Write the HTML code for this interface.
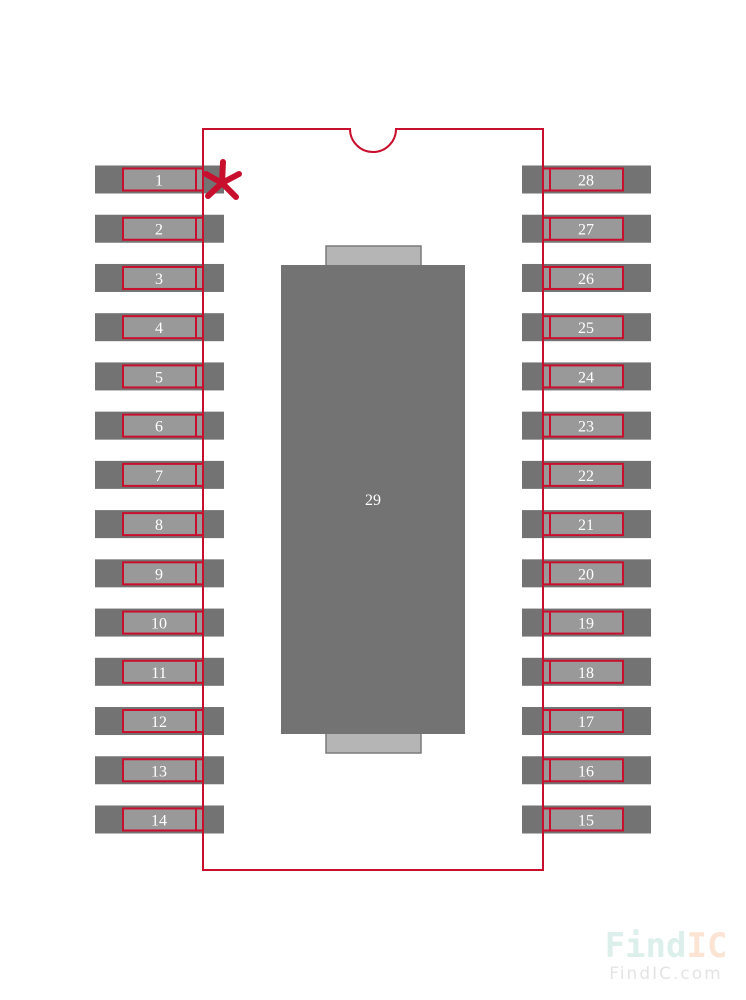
<!DOCTYPE html>
<html><head><meta charset="utf-8"><style>
html,body{margin:0;padding:0;background:#fff;}
svg{display:block;}
text{font-family:"Liberation Serif",serif;font-size:16px;fill:#fff;}
</style></head><body>
<svg id="s" width="746" height="1000" viewBox="0 0 746 1000" xmlns="http://www.w3.org/2000/svg">
<rect x="326" y="246" width="95" height="20" fill="#b5b5b5" stroke="#7a7a7a" stroke-width="1.5"/>
<rect x="326" y="733" width="95" height="20" fill="#b5b5b5" stroke="#7a7a7a" stroke-width="1.5"/>
<rect x="281" y="265" width="184" height="469" fill="#737373"/>
<text x="373" y="505" text-anchor="middle">29</text>
<g id="pins"></g>
<path d="M203 129 H350 A23 23 0 0 0 396 129 H543 V870 H203 Z" fill="none" stroke="#c8102e" stroke-width="2"/>
<g stroke="#c8102e" stroke-width="6" stroke-linecap="round">
<line x1="222" y1="183" x2="223" y2="162"/>
<line x1="222" y1="183" x2="206" y2="174"/>
<line x1="222" y1="183" x2="239" y2="174"/>
<line x1="222" y1="183" x2="208" y2="196"/>
<line x1="222" y1="183" x2="236" y2="197"/>
</g>
<text x="666" y="957" text-anchor="middle" style="font-family:'DejaVu Sans Mono',monospace;font-size:34px;font-weight:bold;fill:#dcefea">Find<tspan style="fill:#fbe4d4">IC</tspan></text>
<text x="666" y="979" text-anchor="middle" style="font-family:'DejaVu Sans',sans-serif;font-size:17px;letter-spacing:2px;fill:#e4e4e4">FindIC.com</text>
</svg>
<script>
var g=document.getElementById('pins'),h='';
for(var i=0;i<14;i++){
 var y=165.5+i*49.23;
 h+='<rect x="95" y="'+y+'" width="129" height="28" fill="#737373"/>';
 h+='<rect x="123" y="'+(y+3)+'" width="80" height="22" fill="#999" stroke="#c8102e" stroke-width="2"/>';
 h+='<line x1="196" y1="'+(y+3)+'" x2="196" y2="'+(y+25)+'" stroke="#c8102e" stroke-width="2"/>';
 h+='<text x="159" y="'+(y+20)+'" text-anchor="middle">'+(i+1)+'</text>';
 h+='<rect x="522" y="'+y+'" width="129" height="28" fill="#737373"/>';
 h+='<rect x="543" y="'+(y+3)+'" width="80" height="22" fill="#999" stroke="#c8102e" stroke-width="2"/>';
 h+='<line x1="550" y1="'+(y+3)+'" x2="550" y2="'+(y+25)+'" stroke="#c8102e" stroke-width="2"/>';
 h+='<text x="586" y="'+(y+20)+'" text-anchor="middle">'+(28-i)+'</text>';
}
g.innerHTML=h;
</script>
</body></html>
